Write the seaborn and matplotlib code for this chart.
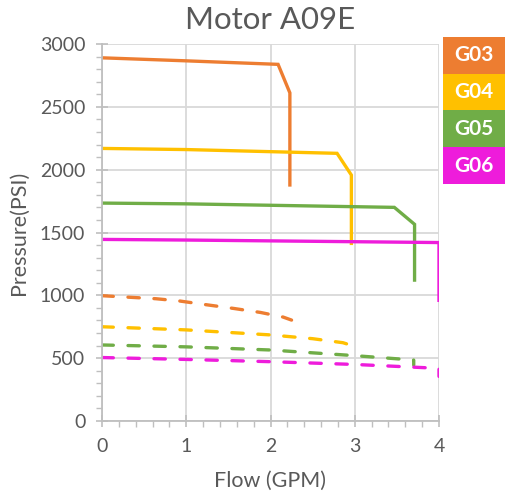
import matplotlib
matplotlib.use("Agg")
import matplotlib.pyplot as plt
import seaborn as sns
import pandas as pd
import numpy as np
from matplotlib.patches import Rectangle

sns.set_theme(style="white")
plt.rcParams['font.family'] = ['Lato', 'DejaVu Sans']

series_names = ["G03", "G04", "G05", "G06"]
colors = ["#ED7D31", "#FFC000", "#70AD47", "#EE1CDB"]

# solid (pressure) curves
g03_x = [0, 1, 2.09, 2.23, 2.23]
g03_y = [2890, 2866, 2838, 2611, 1865]
g04_x = [0, 1, 2.79, 2.96, 2.96]
g04_y = [2169, 2160, 2130, 1957, 1400]
g05_x = [0, 1, 3.47, 3.71, 3.71]
g05_y = [1734, 1728, 1700, 1565, 1108]
g06_x = [0, 1, 4.0, 4.0]
g06_y = [1445, 1440, 1420, 947]

# dashed curves
g03d_x = [0, 0.32, 0.64, 0.92, 1.24, 1.56, 1.88, 2.15, 2.25]
g03d_y = [997, 985, 973, 955, 925, 896, 864, 827, 803]
g04d_x = [0, 1, 2, 2.5, 2.86, 2.97, 2.97]
g04d_y = [750, 725, 685, 655, 623, 600, 540]
g05d_x = [0, 1, 2, 3, 3.5, 3.7, 3.7]
g05d_y = [605, 590, 565, 520, 495, 485, 445]
g06d_x = [0, 1, 2, 3, 3.97, 4.0, 4.0]
g06d_y = [505, 490, 472, 450, 420, 418, 355]

solid = [(g03_x, g03_y), (g04_x, g04_y), (g05_x, g05_y), (g06_x, g06_y)]
dashed = [(g03d_x, g03d_y), (g04d_x, g04d_y), (g05d_x, g05d_y), (g06d_x, g06d_y)]

fig = plt.figure(figsize=(5.05, 4.99), dpi=100)
ax = fig.add_axes([102/505, 1-421/499, (439-102)/505, (421-44)/499])

for (xs, ys), c in zip(solid, colors):
    df = pd.DataFrame({"x": xs, "y": ys})
    sns.lineplot(data=df, x="x", y="y", sort=False, estimator=None, color=c,
                 lw=2.4, ax=ax, solid_capstyle='butt', solid_joinstyle='miter')
for (xs, ys), c in zip(dashed, colors):
    df = pd.DataFrame({"x": xs, "y": ys})
    sns.lineplot(data=df, x="x", y="y", sort=False, estimator=None, color=c,
                 lw=2.4, ax=ax)
    ln = ax.lines[-1]
    ln.set_dashes((3.4, 4.4))
    ln.set_dash_capstyle('round')

ax.set_xlim(0, 4)
ax.set_ylim(0, 3000)
ax.set_xticks([0, 1, 2, 3, 4])
ax.set_xticks(np.arange(0, 4.01, 0.2), minor=True)
ax.set_yticks(range(0, 3001, 500))
ax.set_yticks(range(0, 3001, 100), minor=True)
ax.grid(True, which='major', color='#D9D9D9', lw=1.3)
ax.set_axisbelow(True)
for s in ['top', 'right']:
    ax.spines[s].set_visible(False)
for s in ['left', 'bottom']:
    ax.spines[s].set_color('#BFBFBF')
    ax.spines[s].set_linewidth(1.3)
ax.tick_params(axis='both', which='major', direction='inout', length=8, width=1.2,
               color='#BFBFBF', labelsize=14, labelcolor='#595959')
ax.tick_params(axis='both', which='minor', direction='out', length=4, width=1.0,
               color='#BFBFBF')
ax.tick_params(axis='y', which='both', left=True)
ax.tick_params(axis='x', which='both', bottom=True)
ax.tick_params(axis='y', which='major', pad=8)
ax.tick_params(axis='x', which='major', pad=8)
ax.set_xlabel("Flow (GPM)", fontsize=15.5, color='#595959', labelpad=12)
ax.set_ylabel("Pressure(PSI)", fontsize=15.5, color='#595959', labelpad=8)
fig.text(270/505, 1-20/499, "Motor A09E", ha='center', va='center', fontsize=22.5, color='#595959')

top = 36.7
h = 36.8
for i, (name, c) in enumerate(zip(series_names, colors)):
    y0 = top + i*h
    fig.add_artist(Rectangle((443/505, 1-(y0+h)/499), (505-443)/505, h/499,
                             transform=fig.transFigure, color=c, lw=0))
    fig.text(474/505, 1-(y0+h/2)/499, name, ha='center', va='center',
             fontsize=15, fontweight='bold', color='white')

fig.savefig("out.png", dpi=100)
